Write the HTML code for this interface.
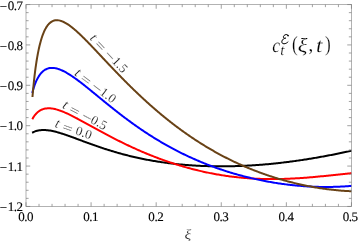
<!DOCTYPE html>
<html lang="en"><head><meta charset="utf-8"><title>c_t^E(xi,t) plot</title>
<style>
html,body{margin:0;padding:0;background:#fff;}
body{width:359px;height:241px;overflow:hidden;}
svg{display:block;}
text{font-family:"Liberation Serif",serif;fill:#000;text-rendering:geometricPrecision;}
.it{font-style:italic;}
.tk text{stroke:#000;stroke-width:0.14px;}
.thin text{stroke:#fff;stroke-width:0.2px;paint-order:fill stroke;}
</style></head><body>
<svg width="359" height="241" viewBox="0 0 359 241">
<rect width="359" height="241" fill="#fff"/>
<g fill="none" stroke-width="2" stroke-linejoin="round">
<path d="M32.10,132.74 33.04,132.27 34.01,131.82 35.03,131.42 36.08,131.06 37.18,130.75 38.30,130.49 39.45,130.28 40.63,130.13 41.82,130.04 43.01,129.99 44.21,130.00 45.41,130.04 46.61,130.13 47.80,130.26 48.98,130.41 50.16,130.60 51.32,130.81 52.48,131.04 53.63,131.29 54.77,131.56 55.90,131.84 57.03,132.14 58.14,132.45 59.25,132.78 60.36,133.11 61.45,133.45 62.55,133.80 63.63,134.15 64.71,134.51 65.79,134.88 66.87,135.25 67.94,135.62 69.01,136.00 70.07,136.38 71.13,136.76 72.19,137.15 73.25,137.54 74.31,137.92 75.37,138.31 76.42,138.70 77.48,139.10 78.53,139.49 79.59,139.88 80.64,140.27 81.70,140.66 82.75,141.06 83.81,141.45 84.86,141.84 85.92,142.23 86.97,142.61 88.03,143.00 89.09,143.39 90.15,143.77 91.21,144.15 92.28,144.53 93.34,144.91 94.41,145.29 95.47,145.67 96.54,146.04 97.61,146.41 98.68,146.78 99.76,147.14 100.83,147.51 101.91,147.87 102.99,148.23 104.07,148.58 105.16,148.94 106.24,149.29 107.33,149.64 108.42,149.98 109.51,150.32 110.61,150.66 111.70,151.00 112.80,151.33 113.90,151.66 115.00,151.98 116.11,152.31 117.22,152.63 118.32,152.94 119.44,153.25 120.55,153.56 121.66,153.87 122.78,154.17 123.90,154.47 125.02,154.76 126.15,155.06 127.27,155.34 128.40,155.63 129.53,155.91 130.66,156.18 131.79,156.46 132.93,156.73 134.07,156.99 135.20,157.25 136.35,157.51 137.49,157.76 138.63,158.01 139.78,158.26 140.93,158.50 142.08,158.74 143.23,158.98 144.38,159.21 145.53,159.44 146.69,159.66 147.85,159.88 149.01,160.09 150.17,160.31 151.33,160.51 152.49,160.72 153.66,160.92 154.82,161.11 155.99,161.31 157.16,161.50 158.33,161.68 159.50,161.86 160.68,162.04 161.85,162.21 163.02,162.38 164.20,162.55 165.38,162.71 166.56,162.87 167.73,163.02 168.91,163.18 170.10,163.32 171.28,163.47 172.46,163.61 173.64,163.74 174.83,163.87 176.02,164.00 177.20,164.13 178.39,164.25 179.58,164.37 180.77,164.48 181.95,164.59 183.14,164.70 184.34,164.80 185.53,164.90 186.72,165.00 187.91,165.09 189.10,165.18 190.30,165.27 191.49,165.35 192.69,165.43 193.88,165.51 195.08,165.58 196.27,165.65 197.47,165.71 198.67,165.78 199.86,165.83 201.06,165.89 202.26,165.94 203.46,165.99 204.65,166.04 205.85,166.08 207.05,166.12 208.25,166.15 209.45,166.19 210.65,166.22 211.85,166.24 213.05,166.26 214.25,166.28 215.45,166.30 216.65,166.31 217.85,166.32 219.05,166.33 220.25,166.34 221.45,166.34 222.65,166.33 223.85,166.33 225.05,166.32 226.25,166.31 227.45,166.30 228.64,166.28 229.84,166.26 231.04,166.24 232.24,166.21 233.44,166.18 234.64,166.15 235.84,166.11 237.04,166.08 238.24,166.04 239.44,165.99 240.64,165.95 241.83,165.90 243.03,165.85 244.23,165.79 245.43,165.73 246.62,165.67 247.82,165.61 249.02,165.54 250.21,165.48 251.41,165.40 252.60,165.33 253.80,165.25 254.99,165.17 256.19,165.09 257.38,165.01 258.58,164.92 259.77,164.83 260.96,164.74 262.16,164.64 263.35,164.54 264.54,164.44 265.73,164.34 266.92,164.23 268.11,164.13 269.30,164.02 270.49,163.90 271.68,163.79 272.87,163.67 274.06,163.55 275.25,163.42 276.43,163.30 277.62,163.17 278.80,163.04 279.99,162.91 281.17,162.77 282.36,162.63 283.54,162.49 284.73,162.35 285.91,162.21 287.09,162.06 288.27,161.91 289.45,161.76 290.63,161.60 291.81,161.45 292.99,161.29 294.17,161.13 295.35,160.97 296.52,160.80 297.70,160.63 298.88,160.46 300.05,160.29 301.23,160.12 302.40,159.94 303.57,159.76 304.75,159.58 305.92,159.40 307.09,159.22 308.26,159.03 309.43,158.84 310.60,158.65 311.77,158.46 312.94,158.27 314.10,158.07 315.27,157.87 316.44,157.67 317.60,157.47 318.77,157.26 319.93,157.06 321.09,156.85 322.26,156.64 323.42,156.43 324.58,156.22 325.74,156.00 326.90,155.79 328.06,155.57 329.22,155.35 330.38,155.13 331.53,154.90 332.69,154.68 333.84,154.45 335.00,154.22 336.15,153.99 337.31,153.76 338.46,153.53 339.61,153.29 340.77,153.06 341.92,152.82 343.07,152.58 344.22,152.34 345.37,152.10 346.52,151.85 347.66,151.61 348.81,151.36 349.96,151.12 351.11,150.87 351.85,150.71" stroke="#000000"/>
<path d="M32.30,119.15 32.58,118.65 32.87,118.14 33.19,117.63 33.52,117.10 33.88,116.56 34.26,116.01 34.67,115.46 35.11,114.90 35.59,114.33 36.10,113.75 36.66,113.17 37.26,112.60 37.91,112.03 38.63,111.46 39.40,110.92 40.24,110.40 41.14,109.92 42.11,109.49 43.14,109.11 44.23,108.80 45.36,108.57 46.53,108.40 47.71,108.31 48.91,108.30 50.11,108.35 51.31,108.45 52.49,108.61 53.66,108.82 54.82,109.07 55.96,109.34 57.08,109.65 58.19,109.99 59.28,110.34 60.36,110.72 61.42,111.11 62.47,111.52 63.51,111.93 64.53,112.36 65.55,112.80 66.56,113.25 67.55,113.70 68.54,114.16 69.52,114.63 70.50,115.10 71.47,115.58 72.43,116.06 73.39,116.55 74.34,117.03 75.29,117.52 76.24,118.02 77.18,118.51 78.11,119.01 79.05,119.51 79.98,120.01 80.91,120.51 81.84,121.02 82.77,121.52 83.69,122.03 84.61,122.53 85.54,123.04 86.46,123.55 87.38,124.05 88.30,124.56 89.22,125.07 90.14,125.58 91.06,126.09 91.97,126.59 92.89,127.10 93.81,127.61 94.73,128.12 95.65,128.62 96.58,129.13 97.50,129.64 98.42,130.14 99.34,130.65 100.27,131.15 101.20,131.65 102.12,132.15 103.05,132.66 103.98,133.16 104.91,133.66 105.84,134.15 106.78,134.65 107.71,135.15 108.65,135.64 109.59,136.14 110.53,136.63 111.47,137.12 112.42,137.61 113.36,138.10 114.31,138.59 115.26,139.08 116.21,139.56 117.16,140.05 118.12,140.53 119.08,141.01 120.04,141.49 121.00,141.96 121.96,142.44 122.93,142.91 123.90,143.39 124.87,143.86 125.84,144.32 126.82,144.79 127.80,145.26 128.78,145.72 129.76,146.18 130.74,146.64 131.73,147.10 132.72,147.55 133.71,148.01 134.70,148.46 135.70,148.91 136.70,149.35 137.70,149.80 138.70,150.24 139.71,150.68 140.72,151.12 141.73,151.56 142.74,151.99 143.75,152.42 144.77,152.85 145.79,153.28 146.82,153.70 147.84,154.12 148.87,154.54 149.90,154.96 150.93,155.37 151.97,155.78 153.00,156.19 154.04,156.60 155.09,157.00 156.13,157.40 157.18,157.80 158.23,158.20 159.28,158.59 160.34,158.98 161.39,159.36 162.45,159.75 163.51,160.13 164.58,160.51 165.64,160.88 166.71,161.26 167.79,161.63 168.86,161.99 169.94,162.35 171.01,162.71 172.09,163.07 173.18,163.42 174.26,163.78 175.35,164.12 176.44,164.47 177.53,164.81 178.63,165.14 179.73,165.48 180.83,165.81 181.93,166.14 183.03,166.46 184.14,166.78 185.25,167.10 186.36,167.41 187.47,167.72 188.59,168.02 189.70,168.33 190.82,168.62 191.94,168.92 193.07,169.21 194.19,169.50 195.32,169.78 196.45,170.06 197.58,170.34 198.72,170.61 199.85,170.88 200.99,171.14 202.13,171.40 203.27,171.66 204.41,171.91 205.56,172.16 206.71,172.40 207.86,172.64 209.01,172.88 210.16,173.11 211.31,173.34 212.47,173.56 213.63,173.78 214.79,173.99 215.95,174.20 217.11,174.41 218.27,174.61 219.44,174.81 220.61,175.00 221.78,175.19 222.95,175.37 224.12,175.55 225.29,175.73 226.47,175.90 227.64,176.07 228.82,176.23 230.00,176.39 231.18,176.54 232.36,176.69 233.54,176.83 234.72,176.97 235.91,177.11 237.09,177.24 238.28,177.37 239.46,177.49 240.65,177.60 241.84,177.72 243.03,177.82 244.22,177.93 245.41,178.03 246.60,178.12 247.80,178.21 248.99,178.30 250.19,178.38 251.38,178.45 252.58,178.53 253.77,178.59 254.97,178.66 256.17,178.72 257.36,178.77 258.56,178.82 259.76,178.87 260.96,178.91 262.16,178.94 263.35,178.98 264.55,179.01 265.75,179.03 266.95,179.05 268.15,179.07 269.35,179.08 270.55,179.08 271.75,179.09 272.95,179.09 274.15,179.08 275.35,179.07 276.55,179.06 277.75,179.05 278.95,179.02 280.15,179.00 281.35,178.97 282.55,178.94 283.75,178.91 284.95,178.87 286.15,178.83 287.34,178.78 288.54,178.73 289.74,178.68 290.94,178.62 292.14,178.57 293.33,178.50 294.53,178.44 295.73,178.37 296.92,178.30 298.12,178.23 299.31,178.15 300.51,178.07 301.70,177.99 302.90,177.90 304.09,177.82 305.28,177.73 306.48,177.63 307.67,177.54 308.86,177.44 310.05,177.34 311.24,177.24 312.44,177.14 313.63,177.03 314.82,176.93 316.01,176.82 317.20,176.71 318.39,176.60 319.58,176.48 320.77,176.37 321.95,176.25 323.14,176.14 324.33,176.02 325.52,175.90 326.71,175.78 327.90,175.66 329.08,175.53 330.27,175.41 331.46,175.29 332.64,175.17 333.83,175.04 335.02,174.92 336.21,174.79 337.39,174.67 338.58,174.55 339.77,174.42 340.95,174.30 342.14,174.18 343.33,174.05 344.52,173.93 345.70,173.81 346.89,173.69 348.08,173.57 349.27,173.46 350.46,173.34 351.65,173.23 351.85,173.21" stroke="#ff0000"/>
<path d="M32.30,92.88 32.50,92.11 32.70,91.35 32.90,90.62 33.10,89.92 33.30,89.23 33.50,88.56 33.70,87.91 33.90,87.28 34.10,86.67 34.30,86.08 34.50,85.50 34.70,84.94 34.90,84.39 35.10,83.86 35.30,83.34 35.50,82.84 35.70,82.35 35.90,81.88 36.10,81.42 36.30,80.96 36.50,80.52 36.72,80.07 36.94,79.60 37.17,79.13 37.42,78.66 37.68,78.17 37.96,77.67 38.25,77.17 38.56,76.65 38.89,76.12 39.24,75.59 39.61,75.05 40.02,74.49 40.45,73.93 40.92,73.36 41.43,72.79 41.98,72.21 42.58,71.64 43.24,71.07 43.96,70.51 44.75,69.98 45.61,69.48 46.55,69.03 47.56,68.63 48.63,68.32 49.76,68.09 50.94,67.96 52.13,67.92 53.33,67.97 54.52,68.11 55.70,68.32 56.85,68.58 57.97,68.90 59.07,69.26 60.14,69.65 61.18,70.08 62.20,70.53 63.19,70.99 64.16,71.48 65.11,71.98 66.04,72.49 66.96,73.01 67.85,73.54 68.74,74.07 69.61,74.61 70.46,75.16 71.31,75.72 72.14,76.27 72.97,76.83 73.79,77.40 74.59,77.96 75.39,78.53 76.19,79.11 76.97,79.68 77.75,80.25 78.52,80.83 79.29,81.41 80.06,81.99 80.82,82.57 81.57,83.15 82.32,83.73 83.07,84.32 83.81,84.90 84.55,85.49 85.29,86.07 86.03,86.66 86.76,87.24 87.49,87.83 88.22,88.42 88.95,89.00 89.67,89.59 90.39,90.18 91.12,90.77 91.84,91.35 92.56,91.94 93.28,92.53 94.00,93.12 94.72,93.71 95.43,94.30 96.15,94.88 96.87,95.47 97.59,96.06 98.30,96.65 99.02,97.24 99.74,97.83 100.45,98.42 101.17,99.00 101.89,99.59 102.61,100.18 103.33,100.77 104.05,101.35 104.77,101.94 105.49,102.53 106.22,103.12 106.94,103.70 107.66,104.29 108.39,104.87 109.12,105.46 109.84,106.05 110.57,106.63 111.31,107.22 112.04,107.80 112.77,108.38 113.51,108.97 114.24,109.55 114.98,110.13 115.72,110.72 116.46,111.30 117.21,111.88 117.95,112.46 118.70,113.04 119.45,113.62 120.20,114.20 120.95,114.78 121.71,115.36 122.47,115.94 123.23,116.52 123.99,117.09 124.75,117.67 125.52,118.24 126.29,118.82 127.06,119.39 127.83,119.97 128.61,120.54 129.38,121.11 130.17,121.68 130.95,122.25 131.73,122.82 132.52,123.39 133.31,123.96 134.11,124.52 134.90,125.09 135.70,125.65 136.50,126.22 137.31,126.78 138.11,127.34 138.92,127.90 139.73,128.46 140.55,129.02 141.37,129.58 142.19,130.14 143.01,130.69 143.84,131.25 144.67,131.80 145.50,132.35 146.34,132.90 147.18,133.45 148.02,134.00 148.86,134.54 149.71,135.09 150.56,135.63 151.41,136.17 152.27,136.71 153.13,137.25 154.00,137.79 154.86,138.33 155.73,138.86 156.60,139.39 157.48,139.92 158.36,140.45 159.24,140.98 160.13,141.51 161.02,142.03 161.91,142.55 162.80,143.07 163.70,143.59 164.60,144.11 165.51,144.63 166.42,145.14 167.33,145.65 168.24,146.16 169.16,146.67 170.08,147.17 171.00,147.67 171.93,148.17 172.86,148.67 173.80,149.17 174.73,149.66 175.68,150.16 176.62,150.65 177.57,151.13 178.52,151.62 179.47,152.10 180.43,152.58 181.39,153.06 182.35,153.54 183.32,154.01 184.29,154.48 185.26,154.95 186.23,155.41 187.21,155.88 188.20,156.34 189.18,156.80 190.17,157.25 191.16,157.70 192.16,158.15 193.15,158.60 194.16,159.04 195.16,159.49 196.17,159.93 197.18,160.36 198.19,160.79 199.21,161.22 200.22,161.65 201.25,162.08 202.27,162.50 203.30,162.92 204.33,163.33 205.36,163.74 206.40,164.15 207.44,164.56 208.48,164.96 209.53,165.36 210.58,165.76 211.63,166.16 212.68,166.55 213.74,166.93 214.79,167.32 215.86,167.70 216.92,168.08 217.99,168.45 219.06,168.82 220.13,169.19 221.20,169.56 222.28,169.92 223.36,170.28 224.44,170.63 225.53,170.98 226.62,171.33 227.71,171.68 228.80,172.02 229.89,172.36 230.99,172.69 232.09,173.02 233.19,173.35 234.29,173.67 235.40,173.99 236.51,174.31 237.62,174.62 238.73,174.93 239.85,175.24 240.96,175.54 242.08,175.84 243.20,176.14 244.33,176.43 245.45,176.71 246.58,177.00 247.71,177.28 248.84,177.56 249.97,177.83 251.11,178.10 252.24,178.37 253.38,178.63 254.52,178.89 255.67,179.14 256.81,179.39 257.96,179.64 259.10,179.88 260.25,180.12 261.40,180.35 262.56,180.59 263.71,180.81 264.87,181.04 266.03,181.26 267.18,181.47 268.34,181.68 269.51,181.89 270.67,182.10 271.84,182.30 273.00,182.49 274.17,182.69 275.34,182.87 276.51,183.06 277.68,183.24 278.85,183.41 280.03,183.59 281.20,183.75 282.38,183.92 283.56,184.08 284.74,184.23 285.92,184.38 287.10,184.53 288.28,184.67 289.46,184.81 290.65,184.95 291.83,185.08 293.02,185.20 294.21,185.33 295.39,185.44 296.58,185.56 297.77,185.67 298.96,185.77 300.15,185.87 301.35,185.97 302.54,186.06 303.73,186.15 304.93,186.23 306.12,186.31 307.31,186.38 308.51,186.45 309.71,186.52 310.90,186.58 312.10,186.63 313.30,186.69 314.50,186.73 315.69,186.78 316.89,186.81 318.09,186.85 319.29,186.88 320.49,186.90 321.69,186.92 322.89,186.94 324.09,186.95 325.29,186.95 326.49,186.95 327.69,186.95 328.89,186.94 330.09,186.93 331.29,186.91 332.49,186.89 333.69,186.86 334.89,186.83 336.09,186.79 337.29,186.75 338.48,186.70 339.68,186.65 340.88,186.59 342.08,186.53 343.27,186.46 344.47,186.39 345.66,186.32 346.86,186.23 348.05,186.15 349.25,186.06 350.44,185.96 351.63,185.86 351.85,185.84" stroke="#0000ff"/>
<path d="M32.46,97.00 32.66,94.64 32.86,92.37 33.06,90.17 33.26,88.04 33.46,85.99 33.66,84.00 33.86,82.07 34.06,80.21 34.26,78.40 34.46,76.65 34.66,74.95 34.86,73.31 35.06,71.71 35.26,70.16 35.46,68.66 35.66,67.20 35.86,65.78 36.06,64.41 36.26,63.07 36.46,61.77 36.66,60.51 36.86,59.28 37.06,58.09 37.26,56.93 37.46,55.81 37.66,54.71 37.86,53.64 38.06,52.61 38.26,51.60 38.46,50.62 38.66,49.66 38.86,48.73 39.06,47.83 39.26,46.95 39.46,46.09 39.66,45.26 39.86,44.45 40.06,43.66 40.26,42.89 40.46,42.15 40.66,41.42 40.86,40.71 41.06,40.02 41.26,39.35 41.46,38.70 41.66,38.06 41.86,37.44 42.06,36.84 42.26,36.26 42.46,35.69 42.66,35.13 42.86,34.59 43.06,34.07 43.26,33.56 43.46,33.06 43.66,32.58 43.86,32.11 44.06,31.65 44.26,31.21 44.46,30.76 44.68,30.30 44.91,29.83 45.16,29.36 45.41,28.87 45.69,28.38 45.98,27.87 46.29,27.36 46.62,26.83 46.97,26.30 47.36,25.75 47.78,25.20 48.23,24.63 48.73,24.06 49.29,23.49 49.90,22.92 50.58,22.36 51.34,21.83 52.19,21.33 53.13,20.90 54.17,20.55 55.29,20.31 56.46,20.20 57.66,20.23 58.85,20.37 60.02,20.62 61.15,20.95 62.23,21.34 63.26,21.78 64.26,22.26 65.21,22.76 66.13,23.29 67.02,23.83 67.88,24.38 68.72,24.95 69.53,25.52 70.32,26.10 71.09,26.68 71.85,27.27 72.59,27.86 73.31,28.45 74.03,29.05 74.73,29.64 75.42,30.24 76.10,30.84 76.78,31.44 77.44,32.04 78.10,32.64 78.75,33.24 79.39,33.84 80.03,34.44 80.66,35.04 81.28,35.65 81.90,36.25 82.52,36.85 83.13,37.45 83.74,38.05 84.34,38.66 84.94,39.26 85.54,39.86 86.13,40.46 86.73,41.06 87.31,41.66 87.90,42.26 88.49,42.86 89.07,43.46 89.65,44.06 90.23,44.66 90.80,45.27 91.38,45.87 91.95,46.47 92.52,47.07 93.09,47.66 93.66,48.26 94.23,48.86 94.80,49.46 95.37,50.06 95.93,50.66 96.50,51.26 97.06,51.86 97.63,52.46 98.19,53.06 98.75,53.66 99.32,54.26 99.88,54.86 100.44,55.46 101.01,56.05 101.57,56.65 102.13,57.25 102.69,57.85 103.26,58.45 103.82,59.05 104.38,59.65 104.95,60.25 105.51,60.84 106.07,61.44 106.64,62.04 107.20,62.64 107.77,63.24 108.33,63.84 108.90,64.44 109.47,65.04 110.04,65.63 110.60,66.23 111.17,66.83 111.74,67.43 112.31,68.03 112.88,68.63 113.46,69.23 114.03,69.83 114.60,70.43 115.18,71.02 115.75,71.62 116.33,72.22 116.91,72.82 117.49,73.42 118.07,74.02 118.65,74.62 119.23,75.22 119.82,75.82 120.40,76.42 120.99,77.02 121.57,77.62 122.16,78.22 122.75,78.81 123.34,79.41 123.93,80.01 124.53,80.61 125.12,81.21 125.72,81.81 126.32,82.41 126.92,83.01 127.52,83.61 128.12,84.21 128.72,84.81 129.33,85.41 129.94,86.01 130.55,86.61 131.16,87.20 131.77,87.80 132.38,88.40 133.00,89.00 133.62,89.60 134.23,90.20 134.86,90.80 135.48,91.40 136.10,92.00 136.73,92.59 137.36,93.19 137.99,93.79 138.62,94.39 139.25,94.99 139.89,95.59 140.52,96.18 141.16,96.78 141.81,97.38 142.45,97.98 143.09,98.57 143.74,99.17 144.39,99.77 145.04,100.36 145.70,100.96 146.35,101.56 147.01,102.15 147.67,102.75 148.33,103.35 149.00,103.94 149.67,104.54 150.33,105.13 151.01,105.73 151.68,106.32 152.36,106.91 153.03,107.51 153.71,108.10 154.40,108.69 155.08,109.29 155.77,109.88 156.46,110.47 157.15,111.06 157.85,111.66 158.54,112.25 159.24,112.84 159.95,113.43 160.65,114.02 161.36,114.61 162.07,115.19 162.78,115.78 163.50,116.37 164.22,116.96 164.94,117.54 165.66,118.13 166.38,118.71 167.11,119.30 167.84,119.88 168.58,120.47 169.31,121.05 170.05,121.63 170.80,122.21 171.54,122.79 172.29,123.37 173.04,123.95 173.79,124.53 174.55,125.11 175.31,125.69 176.07,126.26 176.83,126.84 177.60,127.41 178.37,127.99 179.15,128.56 179.92,129.13 180.70,129.70 181.48,130.27 182.27,130.84 183.06,131.41 183.85,131.98 184.64,132.54 185.44,133.11 186.24,133.67 187.05,134.24 187.85,134.80 188.66,135.36 189.48,135.92 190.29,136.48 191.11,137.03 191.93,137.59 192.76,138.14 193.59,138.70 194.42,139.25 195.26,139.80 196.09,140.35 196.94,140.89 197.78,141.44 198.63,141.99 199.48,142.53 200.34,143.07 201.19,143.61 202.05,144.15 202.92,144.69 203.79,145.22 204.66,145.75 205.53,146.29 206.41,146.82 207.29,147.35 208.17,147.87 209.06,148.40 209.95,148.92 210.85,149.44 211.74,149.96 212.64,150.48 213.55,150.99 214.46,151.51 215.37,152.02 216.28,152.53 217.20,153.03 218.12,153.54 219.04,154.04 219.97,154.54 220.90,155.04 221.83,155.54 222.77,156.03 223.71,156.53 224.66,157.02 225.60,157.50 226.55,157.99 227.51,158.47 228.47,158.95 229.43,159.43 230.39,159.90 231.36,160.38 232.33,160.85 233.30,161.31 234.28,161.78 235.26,162.24 236.24,162.70 237.23,163.16 238.22,163.61 239.21,164.06 240.20,164.51 241.20,164.96 242.21,165.40 243.21,165.84 244.22,166.28 245.23,166.71 246.25,167.15 247.26,167.57 248.29,168.00 249.31,168.42 250.34,168.84 251.37,169.26 252.40,169.67 253.44,170.08 254.47,170.49 255.52,170.89 256.56,171.29 257.61,171.69 258.66,172.08 259.71,172.48 260.77,172.86 261.83,173.25 262.89,173.63 263.95,174.01 265.02,174.38 266.09,174.75 267.16,175.12 268.24,175.48 269.32,175.84 270.40,176.20 271.48,176.55 272.57,176.90 273.66,177.25 274.75,177.59 275.84,177.93 276.94,178.27 278.03,178.60 279.13,178.93 280.24,179.25 281.34,179.57 282.45,179.89 283.56,180.21 284.67,180.52 285.79,180.82 286.91,181.12 288.03,181.42 289.15,181.72 290.27,182.01 291.40,182.29 292.52,182.58 293.65,182.86 294.79,183.13 295.92,183.40 297.06,183.67 298.19,183.93 299.33,184.19 300.48,184.45 301.62,184.70 302.77,184.95 303.91,185.19 305.06,185.43 306.21,185.66 307.37,185.89 308.52,186.12 309.68,186.34 310.84,186.56 312.00,186.77 313.16,186.98 314.32,187.19 315.49,187.39 316.65,187.58 317.82,187.78 318.99,187.96 320.16,188.15 321.33,188.33 322.51,188.50 323.68,188.67 324.86,188.83 326.03,188.99 327.21,189.15 328.39,189.30 329.57,189.45 330.76,189.59 331.94,189.72 333.13,189.86 334.31,189.98 335.50,190.10 336.69,190.22 337.88,190.33 339.07,190.44 340.26,190.54 341.45,190.64 342.64,190.73 343.84,190.81 345.03,190.89 346.22,190.97 347.42,191.04 348.62,191.10 349.81,191.16 351.01,191.21 351.85,191.24" stroke="#694216"/>
</g>
<rect x="26.0" y="4.55" width="325.45" height="201.90" fill="none" stroke="#999" stroke-width="0.75"/>
<path d="M26.00,206.45v-4.2M26.00,4.55v4.2M26.0,4.55h4.2M351.45,4.55h-4.2M39.02,206.45v-2.6M39.02,4.55v2.6M26.0,12.63h2.6M351.45,12.63h-2.6M52.04,206.45v-2.6M52.04,4.55v2.6M26.0,20.70h2.6M351.45,20.70h-2.6M65.05,206.45v-2.6M65.05,4.55v2.6M26.0,28.78h2.6M351.45,28.78h-2.6M78.07,206.45v-2.6M78.07,4.55v2.6M26.0,36.85h2.6M351.45,36.85h-2.6M91.09,206.45v-4.2M91.09,4.55v4.2M26.0,44.93h4.2M351.45,44.93h-4.2M104.11,206.45v-2.6M104.11,4.55v2.6M26.0,53.01h2.6M351.45,53.01h-2.6M117.13,206.45v-2.6M117.13,4.55v2.6M26.0,61.08h2.6M351.45,61.08h-2.6M130.14,206.45v-2.6M130.14,4.55v2.6M26.0,69.16h2.6M351.45,69.16h-2.6M143.16,206.45v-2.6M143.16,4.55v2.6M26.0,77.23h2.6M351.45,77.23h-2.6M156.18,206.45v-4.2M156.18,4.55v4.2M26.0,85.31h4.2M351.45,85.31h-4.2M169.20,206.45v-2.6M169.20,4.55v2.6M26.0,93.39h2.6M351.45,93.39h-2.6M182.22,206.45v-2.6M182.22,4.55v2.6M26.0,101.46h2.6M351.45,101.46h-2.6M195.23,206.45v-2.6M195.23,4.55v2.6M26.0,109.54h2.6M351.45,109.54h-2.6M208.25,206.45v-2.6M208.25,4.55v2.6M26.0,117.61h2.6M351.45,117.61h-2.6M221.27,206.45v-4.2M221.27,4.55v4.2M26.0,125.69h4.2M351.45,125.69h-4.2M234.29,206.45v-2.6M234.29,4.55v2.6M26.0,133.77h2.6M351.45,133.77h-2.6M247.31,206.45v-2.6M247.31,4.55v2.6M26.0,141.84h2.6M351.45,141.84h-2.6M260.32,206.45v-2.6M260.32,4.55v2.6M26.0,149.92h2.6M351.45,149.92h-2.6M273.34,206.45v-2.6M273.34,4.55v2.6M26.0,157.99h2.6M351.45,157.99h-2.6M286.36,206.45v-4.2M286.36,4.55v4.2M26.0,166.07h4.2M351.45,166.07h-4.2M299.38,206.45v-2.6M299.38,4.55v2.6M26.0,174.15h2.6M351.45,174.15h-2.6M312.40,206.45v-2.6M312.40,4.55v2.6M26.0,182.22h2.6M351.45,182.22h-2.6M325.41,206.45v-2.6M325.41,4.55v2.6M26.0,190.30h2.6M351.45,190.30h-2.6M338.43,206.45v-2.6M338.43,4.55v2.6M26.0,198.37h2.6M351.45,198.37h-2.6M351.45,206.45v-4.2M351.45,4.55v4.2M26.0,206.45h4.2M351.45,206.45h-4.2" fill="none" stroke="#7a7a7a" stroke-width="0.7"/>
<g style="filter:grayscale(1)">
<g class="tk" font-size="13" text-anchor="middle" letter-spacing="-0.45">
<text x="25.6" y="220.6">0.0</text>
<text x="90.7" y="220.6">0.1</text>
<text x="155.8" y="220.6">0.2</text>
<text x="220.9" y="220.6">0.3</text>
<text x="286.0" y="220.6">0.4</text>
<text x="350.2" y="220.6">0.5</text>
</g>
<g class="tk" font-size="13" text-anchor="end">
<text x="22.6" y="10.9">−<tspan dy="-1" dx="0.7" letter-spacing="-0.45">0.7</tspan></text>
<text x="22.6" y="51.0">−<tspan dy="-1" dx="0.7" letter-spacing="-0.45">0.8</tspan></text>
<text x="22.6" y="91.2">−<tspan dy="-1" dx="0.7" letter-spacing="-0.45">0.9</tspan></text>
<text x="22.6" y="131.3">−<tspan dy="-1" dx="0.7" letter-spacing="-0.45">1.0</tspan></text>
<text x="22.6" y="171.5">−<tspan dy="-1" dx="0.7" letter-spacing="-0.45">1.1</tspan></text>
<text x="22.6" y="211.6">−<tspan dy="-1" dx="0.7" letter-spacing="-0.45">1.2</tspan></text>
</g>
<g class="thin">
<text class="it" transform="translate(184.5,238.8) scale(1.12,1)" font-size="14">ξ</text>
<g transform="translate(88.98,38.56) rotate(46.4)" font-size="13"><text class="it" x="0.4" y="0" font-size="14">t</text><text transform="translate(8.09,1.0) scale(1.42,1)">=</text><text transform="translate(21.82,1.0) scale(1.42,1)">−</text><text x="32.15" y="0" letter-spacing="0.1">1.5</text></g>
<g transform="translate(73.42,74.38) rotate(37.0)" font-size="13"><text class="it" x="0.4" y="0" font-size="14">t</text><text transform="translate(8.09,1.0) scale(1.42,1)">=</text><text transform="translate(21.82,1.0) scale(1.42,1)">−</text><text x="32.15" y="0" letter-spacing="0.1">1.0</text></g>
<g transform="translate(61.45,107.43) rotate(28.0)" font-size="13"><text class="it" x="0.4" y="0" font-size="14">t</text><text transform="translate(8.09,1.0) scale(1.42,1)">=</text><text transform="translate(21.82,1.0) scale(1.42,1)">−</text><text x="32.15" y="0" letter-spacing="0.1">0.5</text></g>
<g transform="translate(53.95,126.59) rotate(19.5)" font-size="13"><text class="it" x="0.4" y="0" font-size="14">t</text><text transform="translate(8.09,1.0) scale(1.42,1)">=</text><text x="22.04" y="0" letter-spacing="0.1">0.0</text></g>
<text class="it" transform="translate(272.2,51.8) scale(0.88,1)" font-size="20">c</text>
<text class="it" x="280.3" y="55.3" font-size="15">t</text>
<text transform="translate(291.9,51.3) scale(0.8,1)" font-size="21.5">(</text>
<text class="it" transform="translate(297.7,51.6) scale(1.12,1)" font-size="20.2">ξ</text>
<text x="308.2" y="51.3" font-size="20.5">,</text>
<text class="it" transform="translate(316.1,51.6) scale(1.12,1)" font-size="20.5">t</text>
<text transform="translate(324.9,51.3) scale(0.8,1)" font-size="21.5">)</text>
</g>
<path d="M288.2,35.8C288.1,34.6 286.5,34.2 285.1,34.8C283.6,35.5 283.0,36.8 283.5,37.7C283.9,38.3 284.8,38.4 285.7,38.1C283.9,38.3 282.4,39.5 281.9,41.1C281.5,42.7 282.4,43.8 284.0,43.8C285.5,43.7 287.0,43.0 288.0,41.9" fill="none" stroke="#000" stroke-width="1" stroke-linecap="round" stroke-linejoin="round"/>
<circle cx="288.0" cy="35.6" r="0.8" fill="#000"/>
</g>
</svg>
</body></html>
